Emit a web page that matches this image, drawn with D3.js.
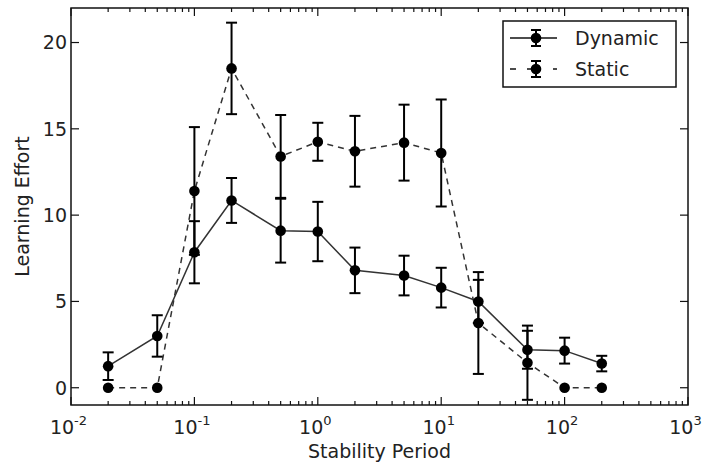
<!DOCTYPE html>
<html>
<head>
<meta charset="utf-8">
<script src="https://cdn.jsdelivr.net/npm/d3@7"></script>
<style>
  body { margin: 0; background: #fff; }
  svg { display: block; font-family: "DejaVu Sans", sans-serif; }
</style>
</head>
<body>
<svg width="702" height="466"></svg>
<script>
// stability periods (x values)
var periods = [0.02, 0.05, 0.1, 0.2, 0.5, 1, 2, 5, 10, 20, 50, 100, 200];

// learning effort
var dynamicMean = [1.25, 3.0, 7.85, 10.85, 9.1, 9.05, 6.8, 6.5, 5.8, 5.0, 2.2, 2.15, 1.4];
var dynamicErr  = [0.8, 1.2, 1.8, 1.3, 1.85, 1.72, 1.32, 1.15, 1.15, 1.25, 1.1, 0.75, 0.45];
var staticMean  = [0, 0, 11.4, 18.5, 13.4, 14.25, 13.7, 14.2, 13.6, 3.75, 1.45, 0, 0];
var staticErr   = [0, 0, 3.7, 2.65, 2.4, 1.1, 2.05, 2.2, 3.1, 2.95, 2.15, 0, 0];

var yTicks = [0, 5, 10, 15, 20];
var xDecades = [-2, -1, 0, 1, 2, 3];

var width = 702, height = 466;
var margin = ({top: 8, right: 14, bottom: 61, left: 71});

var x = d3.scaleLog()
    .domain([0.01, 1000])
    .range([margin.left, width - margin.right]);
var y = d3.scaleLinear()
    .domain([-1, 22])
    .range([height - margin.bottom, margin.top]);

var series = [
  {name: "Dynamic", mean: dynamicMean, err: dynamicErr, dash: null},
  {name: "Static", mean: staticMean, err: staticErr, dash: "6,5"}
];

var svg = d3.select("svg");

// ticks, inward on all four sides
var minor = [];
xDecades.slice(0, -1).forEach(e => {
  for (var k = 2; k < 10; k++) minor.push(k * Math.pow(10, e));
});
var x0 = margin.left, x1 = width - margin.right;
var y0 = height - margin.bottom, y1 = margin.top;
var ticks = svg.append("g").attr("stroke", "#111").attr("stroke-width", 1.2);

xDecades.forEach(e => {
  var px = x(Math.pow(10, e));
  ticks.append("line").attr("x1", px).attr("x2", px).attr("y1", y0).attr("y2", y0 - 8);
  ticks.append("line").attr("x1", px).attr("x2", px).attr("y1", y1).attr("y2", y1 + 8);
});
minor.forEach(v => {
  var px = x(v);
  ticks.append("line").attr("x1", px).attr("x2", px).attr("y1", y0).attr("y2", y0 - 4);
  ticks.append("line").attr("x1", px).attr("x2", px).attr("y1", y1).attr("y2", y1 + 4);
});
yTicks.forEach(v => {
  var py = y(v);
  ticks.append("line").attr("x1", x0).attr("x2", x0 + 8).attr("y1", py).attr("y2", py);
  ticks.append("line").attr("x1", x1).attr("x2", x1 - 8).attr("y1", py).attr("y2", py);
});

// tick labels
svg.append("g")
  .selectAll("text")
  .data(yTicks)
  .join("text")
    .attr("x", x0 - 4)
    .attr("y", d => y(d))
    .attr("dy", "0.36em")
    .attr("text-anchor", "end")
    .attr("font-size", 19)
    .attr("fill", "#222")
    .text(d => d);

var xl = svg.append("g")
  .selectAll("text")
  .data(xDecades)
  .join("text")
    .attr("x", d => x(Math.pow(10, d)) - 2.5)
    .attr("y", 434)
    .attr("text-anchor", "middle")
    .attr("font-size", 19)
    .attr("fill", "#222");
xl.append("tspan").text("10");
xl.append("tspan")
    .attr("dy", -9)
    .attr("font-size", 13)
    .text(d => d < 0 ? "-" + (-d) : d);

// axis titles
svg.append("text")
    .attr("x", (x0 + x1) / 2)
    .attr("y", 458)
    .attr("text-anchor", "middle")
    .attr("font-size", 19)
    .attr("fill", "#222")
    .text("Stability Period");
svg.append("text")
    .attr("transform", `translate(29,${(y0 + y1) / 2}) rotate(-90)`)
    .attr("text-anchor", "middle")
    .attr("font-size", 19)
    .attr("fill", "#222")
    .text("Learning Effort");

// lines
var line = d3.line()
    .x(d => x(d.p))
    .y(d => y(d.m));

series.forEach(s => {
  var pts = periods.map((p, i) => ({p: p, m: s.mean[i], e: s.err[i]}));
  svg.append("path")
      .datum(pts)
      .attr("fill", "none")
      .attr("stroke", "#333")
      .attr("stroke-width", 1.5)
      .attr("stroke-dasharray", s.dash)
      .attr("d", line);
  s.pts = pts;
});

// error bars and markers
series.forEach(s => {
  var g = svg.append("g").attr("stroke", "#000").attr("stroke-width", 2);
  s.pts.filter(d => d.e > 0).forEach(d => {
    var px = x(d.p), top = y(d.m + d.e), bot = y(d.m - d.e);
    g.append("line").attr("x1", px).attr("x2", px).attr("y1", top).attr("y2", bot);
    g.append("line").attr("x1", px - 5.5).attr("x2", px + 5.5).attr("y1", top).attr("y2", top);
    g.append("line").attr("x1", px - 5.5).attr("x2", px + 5.5).attr("y1", bot).attr("y2", bot);
  });
});
series.forEach(s => {
  svg.append("g")
    .selectAll("circle")
    .data(s.pts)
    .join("circle")
      .attr("cx", d => x(d.p))
      .attr("cy", d => y(d.m))
      .attr("r", 5.3)
      .attr("fill", "#000");
});

// frame
svg.append("rect")
    .attr("x", x0).attr("y", y1)
    .attr("width", x1 - x0).attr("height", y0 - y1)
    .attr("fill", "none")
    .attr("stroke", "#111")
    .attr("stroke-width", 1.5);

// legend
var lg = svg.append("g").attr("transform", "translate(503,21)");
lg.append("rect")
    .attr("width", 173).attr("height", 66)
    .attr("fill", "#fff")
    .attr("stroke", "#111")
    .attr("stroke-width", 1.5);
series.forEach((s, i) => {
  var cy = 17 + i * 31;
  lg.append("line")
      .attr("x1", 7).attr("x2", 54).attr("y1", cy).attr("y2", cy)
      .attr("stroke", "#111").attr("stroke-width", 1.5)
      .attr("stroke-dasharray", s.dash ? "6,11,6,20" : null);
  lg.append("line").attr("x1", 33).attr("x2", 33).attr("y1", cy - 8).attr("y2", cy + 8)
      .attr("stroke", "#000").attr("stroke-width", 2);
  [-8, 8].forEach(o => lg.append("line")
      .attr("x1", 28).attr("x2", 38).attr("y1", cy + o).attr("y2", cy + o)
      .attr("stroke", "#000").attr("stroke-width", 2));
  lg.append("circle").attr("cx", 33).attr("cy", cy).attr("r", 5.3).attr("fill", "#000");
  lg.append("text")
      .attr("x", 72).attr("y", cy)
      .attr("dy", "0.36em")
      .attr("font-size", 19)
      .attr("fill", "#222")
      .text(s.name);
});
</script>
</body>
</html>
